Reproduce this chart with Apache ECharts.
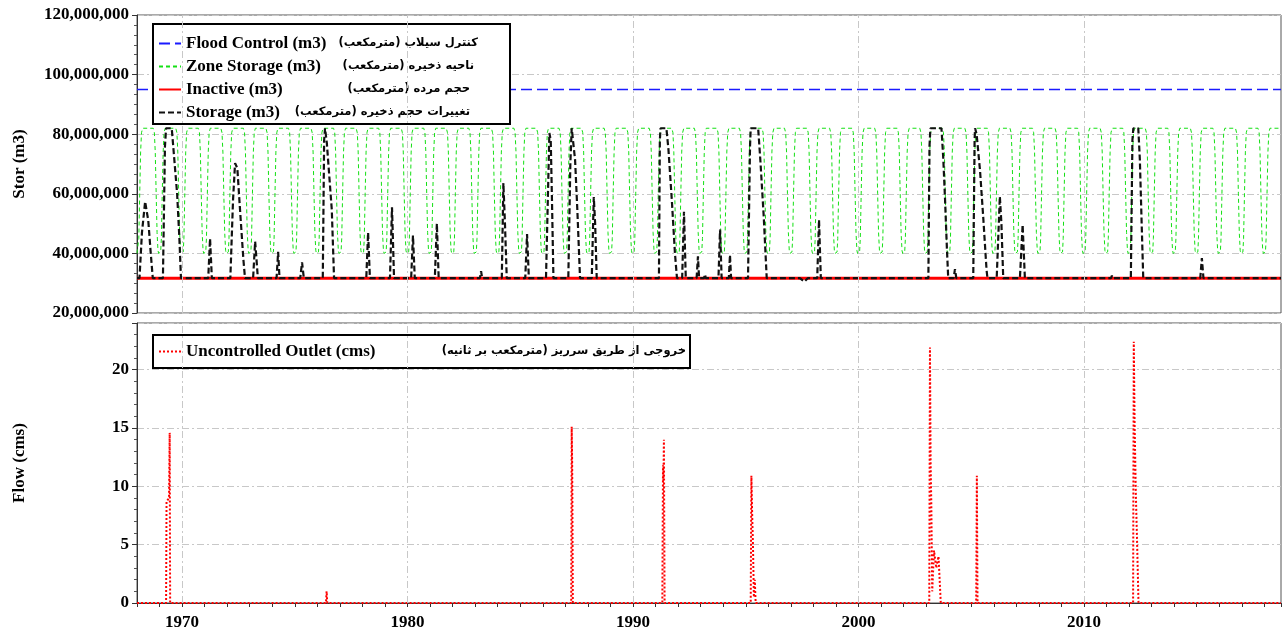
<!DOCTYPE html>
<html><head><meta charset="utf-8">
<script src="https://cdn.jsdelivr.net/npm/echarts@6/dist/echarts.min.js"></script>
<style>html,body{margin:0;padding:0;background:#fff}#c{width:1282px;height:629px}</style>
</head><body><div id="c"></div>
<script>
// ---------------- data ----------------
const xMin = 1968.0, xMax = 2018.74;
const decadeTicks = [1970, 1980, 1990, 2000, 2010];
const floodControl = 95.0;   // million m3
const inactivePool = 31.7;   // million m3
const zoneYears = [];
for (let y = 1968; y <= 2018; y++) zoneYears.push(y);
// seasonal rule curve (fraction of year, million m3), repeats every year
const zonePatternT = [0.00, 0.05, 0.08, 0.12, 0.16, 0.20, 0.25, 0.72, 0.77, 0.81, 0.85, 0.89, 0.93, 0.96];
const zonePatternV = [40, 40.5, 45, 60, 74, 80.5, 82, 82, 80.5, 74, 60, 47, 41, 40];
const B = 31.7;
// storage (year, million m3)
const storagePoints = [
 [1968.00,B],[1968.11,B],[1968.22,47],[1968.36,57.4],[1968.50,51],[1968.61,40],[1968.70,B],
 [1969.15,B],[1969.24,76],[1969.29,82],[1969.54,82],[1969.65,72],[1969.78,60],[1969.88,45],[1969.95,B],
 [1971.16,B],[1971.24,45],[1971.32,B],
 [1972.14,B],[1972.26,58],[1972.35,70.3],[1972.45,68.6],[1972.57,54.6],[1972.72,37.8],[1972.79,B],
 [1973.15,B],[1973.24,44],[1973.30,38],[1973.36,B],
 [1974.19,B],[1974.26,40.5],[1974.32,B],
 [1975.24,B],[1975.32,37],[1975.40,B],
 [1976.24,B],[1976.30,78],[1976.34,82],[1976.42,77],[1976.53,65.8],[1976.64,54.6],[1976.74,B],
 [1978.17,B],[1978.25,47],[1978.33,B],
 [1979.22,B],[1979.31,55.5],[1979.40,B],
 [1980.16,B],[1980.24,46],[1980.32,B],
 [1981.21,B],[1981.30,50],[1981.38,B],
 [1983.21,B],[1983.26,34],[1983.31,B],
 [1984.18,B],[1984.25,63.6],[1984.32,50],[1984.40,B],
 [1985.22,B],[1985.30,46.5],[1985.38,B],
 [1986.14,B],[1986.29,80.4],[1986.35,78],[1986.40,60],[1986.47,B],
 [1987.13,B],[1987.22,70],[1987.28,82],[1987.43,71.4],[1987.53,54.6],[1987.65,B],
 [1988.17,B],[1988.26,58.9],[1988.32,50],[1988.39,B],
 [1991.15,B],[1991.19,78],[1991.22,82],[1991.48,82],[1991.57,75],[1991.72,58],[1991.86,40],[1991.95,B],
 [1992.18,B],[1992.26,54],[1992.34,B],
 [1992.82,B],[1992.88,39],[1992.93,B],
 [1993.15,B],[1993.19,33],[1993.23,B],
 [1993.79,B],[1993.86,48],[1993.93,B],
 [1994.25,B],[1994.30,39.5],[1994.35,B],
 [1995.10,B],[1995.19,76],[1995.22,82],[1995.55,82],[1995.65,71],[1995.80,52],[1995.93,B],
 [1997.40,B],[1997.60,30.5],[1997.75,B],
 [1998.17,B],[1998.25,51.3],[1998.33,B],
 [2003.10,B],[2003.15,76],[2003.19,82],[2003.68,82],[2003.76,72],[2003.84,58],[2003.92,42],[2003.98,B],
 [2004.22,B],[2004.28,34.7],[2004.34,B],
 [2005.09,B],[2005.15,78],[2005.17,82],[2005.24,80],[2005.39,67.9],[2005.54,51.3],[2005.68,34.5],[2005.72,B],
 [2006.13,B],[2006.27,59.1],[2006.34,50],[2006.42,B],
 [2007.16,B],[2007.28,49.6],[2007.38,B],
 [2011.20,B],[2011.24,32.5],[2011.28,B],
 [2012.08,B],[2012.15,78],[2012.19,82],[2012.41,82],[2012.48,71.4],[2012.56,50],[2012.63,B],
 [2015.16,B],[2015.23,38.4],[2015.30,B],
 [2016.21,B],[2016.25,32],[2016.29,B],
 [2018.74,B]
];
// uncontrolled outlet (year, cms)
const outletPoints = [
 [1968.00,0],[1969.29,0],[1969.31,8.7],[1969.42,9.0],[1969.45,14.6],[1969.47,0],
 [1976.38,0],[1976.41,1.0],[1976.44,0],
 [1987.26,0],[1987.28,15.1],[1987.30,12],[1987.31,9],[1987.33,0],
 [1991.30,0],[1991.33,11.8],[1991.35,10.5],[1991.37,14.0],[1991.40,0],
 [1995.22,0],[1995.25,10.9],[1995.28,8],[1995.32,5],[1995.36,0.5],[1995.40,2.0],[1995.44,0],
 [2003.14,0],[2003.17,21.9],[2003.20,12],[2003.23,8.5],[2003.27,1],[2003.35,4.5],[2003.45,3],[2003.55,4],[2003.65,0],
 [2005.22,0],[2005.25,10.9],[2005.28,0],
 [2012.18,0],[2012.21,22.4],[2012.25,15],[2012.30,9.5],[2012.36,5],[2012.42,0],
 [2018.74,0]
];
const topNames = ['Flood Control (m3)', 'Zone Storage (m3)', 'Inactive (m3)', 'Storage (m3)'];
const botNames = ['Uncontrolled Outlet (cms)'];
const faLabels = {
 'Flood Control (m3)': 'کنترل سیلاب (مترمکعب)',
 'Zone Storage (m3)': 'ناحیه ذخیره (مترمکعب)',
 'Inactive (m3)': 'حجم مرده (مترمکعب)',
 'Storage (m3)': 'تغییرات حجم ذخیره (مترمکعب)',
 'Uncontrolled Outlet (cms)': 'خروجی از طریق سرریز (مترمکعب بر ثانیه)'
};

// ---------------- build ----------------
const zoneData = [];
zoneYears.forEach(y => zonePatternT.forEach((t, i) => { const x = y + t; if (x <= xMax) zoneData.push([x, zonePatternV[i]]); }));
zoneData.push([xMax, 82]);

const SERIF = 'Liberation Serif';
const FA = 'DejaVu Sans';
const enSize = 17, faSize = 11.5;
const cv = document.createElement('canvas').getContext('2d');
function tw(t, font){ cv.font = font; return cv.measureText(t).width; }
const RLM = '\u200F';
function legendRich(names, rightEdges, textStart){
  const rich = { en: { fontFamily: SERIF, fontWeight: 'bold', fontSize: enSize, color: '#000', lineHeight: 16 } };
  names.forEach((n, i) => {
    const w = tw(n, 'bold ' + enSize + 'px "' + SERIF + '"');
    rich['f' + i] = { fontFamily: FA, fontWeight: 'bold', fontSize: faSize, color: '#000', lineHeight: 16,
                      width: Math.max(10, rightEdges[i] - textStart - w), align: 'right' };
  });
  return rich;
}
function legendFmt(names){
  return name => { const i = names.indexOf(name); return '{en|' + name + '}{f' + i + '|' + RLM + faLabels[name] + RLM + '}'; };
}

const gridLine = { color: '#c8c8c8', type: [7, 3, 2, 3], width: 1 };
const axisFont = { fontFamily: SERIF, fontWeight: 'bold', fontSize: 17, color: '#000' };
function vgrid(idx, yv){
  return { name: '_vg' + idx, type: 'line', xAxisIndex: idx, yAxisIndex: idx, data: [[xMin, yv], [xMax, yv]],
    symbol: 'none', lineStyle: { opacity: 0 }, silent: true, z: 1,
    markLine: { silent: true, symbol: ['none', 'none'], label: { show: false }, lineStyle: gridLine,
      emphasis: { disabled: true }, data: decadeTicks.map(v => ({ xAxis: v })) } };
}
const legendCommon = { orient: 'vertical', left: 153, itemWidth: 22, itemHeight: 14, itemGap: 6,
  borderColor: '#000', borderWidth: 2, backgroundColor: '#fff', selectedMode: false,
  itemStyle: { opacity: 0, borderWidth: 0 } };

const option = {
  animation: false,
  backgroundColor: '#fff',
  grid: [
    { left: 137, right: 1, top: 15, height: 298, containLabel: false, outerBoundsMode: 'none',
      show: true, borderColor: '#555', borderWidth: 1, backgroundColor: '#fff' },
    { left: 137, right: 1, top: 323, height: 280, containLabel: false, outerBoundsMode: 'none',
      show: true, borderColor: '#555', borderWidth: 1, backgroundColor: '#fff' }
  ],
  legend: [
    Object.assign({ data: topNames, top: 24, padding: [11, 32, 3, 5],
      formatter: legendFmt(topNames), textStyle: { rich: legendRich(topNames, [477, 473, 469, 469], 185) } }, legendCommon),
    Object.assign({ data: botNames, top: 335, padding: [8, 4, 8, 5],
      formatter: legendFmt(botNames), textStyle: { rich: legendRich(botNames, [685], 185) } }, legendCommon)
  ],
  xAxis: [
    { type: 'value', gridIndex: 0, min: xMin, max: xMax, axisLine: { show: false }, axisTick: { show: false },
      axisLabel: { show: false }, splitLine: { show: false } },
    { type: 'value', gridIndex: 1, min: xMin, max: xMax, interval: 1,
      axisLine: { show: true, onZero: false, lineStyle: { color: '#333' } },
      axisTick: { show: true, length: 4, lineStyle: { color: '#333' } },
      axisLabel: Object.assign({ margin: 11, formatter: v => (Math.abs(v - Math.round(v / 10) * 10) < 1e-6 ? String(Math.round(v)) : '') }, axisFont),
      splitLine: { show: false } }
  ],
  yAxis: [
    { type: 'value', gridIndex: 0, min: 20, max: 120, interval: 20,
      name: 'Stor (m3)', nameLocation: 'middle', nameGap: 109, nameTextStyle: axisFont,
      axisLine: { show: true, lineStyle: { color: '#333' } },
      axisTick: { show: true, length: 5, lineStyle: { color: '#333' } },
      minorTick: { show: true, splitNumber: 6, length: 3, lineStyle: { color: '#555' } },
      axisLabel: Object.assign({ margin: 8, formatter: v => String(Math.round(v * 1e6)).replace(/\B(?=(\d{3})+(?!\d))/g, ',') }, axisFont),
      splitLine: { show: true, lineStyle: gridLine } },
    { type: 'value', gridIndex: 1, min: 0, max: 24, interval: 5,
      name: 'Flow (cms)', nameLocation: 'middle', nameGap: 109, nameTextStyle: axisFont,
      axisLine: { show: true, lineStyle: { color: '#333' } },
      axisTick: { show: true, length: 5, lineStyle: { color: '#333' } },
      minorTick: { show: true, splitNumber: 5, length: 3, lineStyle: { color: '#555' } },
      axisLabel: Object.assign({ margin: 8, formatter: v => (v % 5 === 0 ? String(v) : '') }, axisFont),
      splitLine: { show: true, lineStyle: gridLine } }
  ],
  series: [
    vgrid(0, 20), vgrid(1, 0),
    { name: 'Flood Control (m3)', type: 'line', xAxisIndex: 0, yAxisIndex: 0, symbol: 'none', z: 2,
      data: [[xMin, floodControl], [xMax, floodControl]], lineStyle: { color: '#1a1aff', width: 1.5, type: [11, 5] } },
    { name: 'Zone Storage (m3)', type: 'line', xAxisIndex: 0, yAxisIndex: 0, symbol: 'none', z: 2,
      data: zoneData, lineStyle: { color: '#14e014', width: 1, type: [4, 3] } },
    { name: 'Inactive (m3)', type: 'line', xAxisIndex: 0, yAxisIndex: 0, symbol: 'none', z: 2,
      data: [[xMin, inactivePool], [xMax, inactivePool]], lineStyle: { color: '#ff0000', width: 3, type: 'solid' } },
    { name: 'Storage (m3)', type: 'line', xAxisIndex: 0, yAxisIndex: 0, symbol: 'none', z: 3,
      data: storagePoints, lineStyle: { color: '#111', width: 2.2, type: [6, 3] } },
    { name: 'Uncontrolled Outlet (cms)', type: 'line', xAxisIndex: 1, yAxisIndex: 1, symbol: 'none', z: 3,
      data: outletPoints, lineStyle: { color: '#ff0000', width: 2, type: [2, 2] } }
  ]
};
const chart = echarts.init(document.getElementById('c'), null, { renderer: 'canvas' });
chart.setOption(option);
</script></body></html>
